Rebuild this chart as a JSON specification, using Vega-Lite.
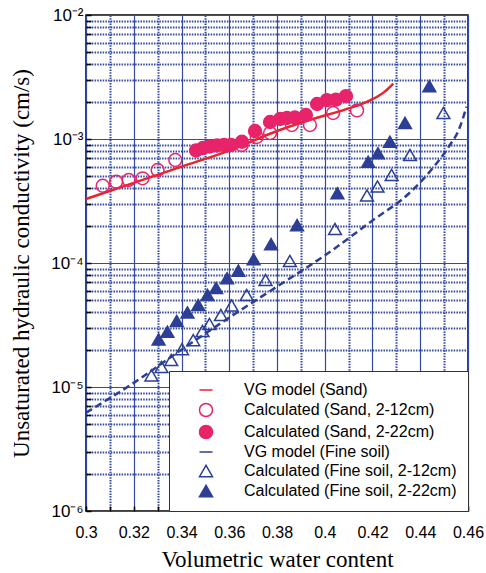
{
  "$schema": "https://vega.github.io/schema/vega-lite/v6.json",
  "width": 382,
  "height": 496,
  "autosize": {"type": "none"},
  "padding": {"left": 86, "top": 15, "right": 18, "bottom": 62},
  "background": "white",
  "config": {
    "view": {"stroke": "#000000", "strokeWidth": 1.5},
    "axis": {"labelFont": "Liberation Sans", "titleFont": "Liberation Serif", "titleFontWeight": "normal", "labelColor": "#000000", "titleColor": "#000000"}
  },
  "datasets": {
    "lineset": [
      {"series": "VG model (Sand)", "wc": 0.300, "k": 3.28e-4},
      {"series": "VG model (Sand)", "wc": 0.320, "k": 4.43e-4},
      {"series": "VG model (Sand)", "wc": 0.340, "k": 5.98e-4},
      {"series": "VG model (Sand)", "wc": 0.360, "k": 8.07e-4},
      {"series": "VG model (Sand)", "wc": 0.380, "k": 1.16e-3},
      {"series": "VG model (Sand)", "wc": 0.395, "k": 1.45e-3},
      {"series": "VG model (Sand)", "wc": 0.409, "k": 1.74e-3},
      {"series": "VG model (Sand)", "wc": 0.419, "k": 2.05e-3},
      {"series": "VG model (Sand)", "wc": 0.425, "k": 2.4e-3},
      {"series": "VG model (Sand)", "wc": 0.4287, "k": 2.8e-3},
      {"series": "VG model (Fine soil)", "wc": 0.300, "k": 6.2e-6},
      {"series": "VG model (Fine soil)", "wc": 0.320, "k": 1.08e-5},
      {"series": "VG model (Fine soil)", "wc": 0.340, "k": 2.0e-5},
      {"series": "VG model (Fine soil)", "wc": 0.360, "k": 3.63e-5},
      {"series": "VG model (Fine soil)", "wc": 0.380, "k": 6.45e-5},
      {"series": "VG model (Fine soil)", "wc": 0.400, "k": 1.15e-4},
      {"series": "VG model (Fine soil)", "wc": 0.420, "k": 2.2e-4},
      {"series": "VG model (Fine soil)", "wc": 0.435, "k": 3.6e-4},
      {"series": "VG model (Fine soil)", "wc": 0.445, "k": 5.75e-4},
      {"series": "VG model (Fine soil)", "wc": 0.452, "k": 8.7e-4},
      {"series": "VG model (Fine soil)", "wc": 0.456, "k": 1.17e-3},
      {"series": "VG model (Fine soil)", "wc": 0.4594, "k": 1.82e-3}
    ],
    "pointset": [
      {"series": "Calculated (Sand, 2-12cm)", "wc": 0.3070, "k": 4.2e-4},
      {"series": "Calculated (Sand, 2-12cm)", "wc": 0.3126, "k": 4.53e-4},
      {"series": "Calculated (Sand, 2-12cm)", "wc": 0.3179, "k": 4.67e-4},
      {"series": "Calculated (Sand, 2-12cm)", "wc": 0.3237, "k": 4.82e-4},
      {"series": "Calculated (Sand, 2-12cm)", "wc": 0.3300, "k": 5.62e-4},
      {"series": "Calculated (Sand, 2-12cm)", "wc": 0.3374, "k": 6.77e-4},
      {"series": "Calculated (Sand, 2-12cm)", "wc": 0.3652, "k": 8.95e-4},
      {"series": "Calculated (Sand, 2-12cm)", "wc": 0.3715, "k": 1.038e-3},
      {"series": "Calculated (Sand, 2-12cm)", "wc": 0.3771, "k": 1.117e-3},
      {"series": "Calculated (Sand, 2-12cm)", "wc": 0.3862, "k": 1.297e-3},
      {"series": "Calculated (Sand, 2-12cm)", "wc": 0.3938, "k": 1.297e-3},
      {"series": "Calculated (Sand, 2-12cm)", "wc": 0.4035, "k": 1.62e-3},
      {"series": "Calculated (Sand, 2-12cm)", "wc": 0.4135, "k": 1.70e-3},
      {"series": "Calculated (Sand, 2-22cm)", "wc": 0.3461, "k": 8.08e-4},
      {"series": "Calculated (Sand, 2-22cm)", "wc": 0.3490, "k": 8.46e-4},
      {"series": "Calculated (Sand, 2-22cm)", "wc": 0.3519, "k": 8.70e-4},
      {"series": "Calculated (Sand, 2-22cm)", "wc": 0.3549, "k": 8.86e-4},
      {"series": "Calculated (Sand, 2-22cm)", "wc": 0.3578, "k": 8.95e-4},
      {"series": "Calculated (Sand, 2-22cm)", "wc": 0.3607, "k": 8.95e-4},
      {"series": "Calculated (Sand, 2-22cm)", "wc": 0.3653, "k": 9.51e-4},
      {"series": "Calculated (Sand, 2-22cm)", "wc": 0.3708, "k": 1.161e-3},
      {"series": "Calculated (Sand, 2-22cm)", "wc": 0.3771, "k": 1.371e-3},
      {"series": "Calculated (Sand, 2-22cm)", "wc": 0.3813, "k": 1.45e-3},
      {"series": "Calculated (Sand, 2-22cm)", "wc": 0.3842, "k": 1.477e-3},
      {"series": "Calculated (Sand, 2-22cm)", "wc": 0.3875, "k": 1.49e-3},
      {"series": "Calculated (Sand, 2-22cm)", "wc": 0.3921, "k": 1.563e-3},
      {"series": "Calculated (Sand, 2-22cm)", "wc": 0.3968, "k": 1.915e-3},
      {"series": "Calculated (Sand, 2-22cm)", "wc": 0.4009, "k": 2.06e-3},
      {"series": "Calculated (Sand, 2-22cm)", "wc": 0.4047, "k": 2.08e-3},
      {"series": "Calculated (Sand, 2-22cm)", "wc": 0.4089, "k": 2.22e-3},
      {"series": "Calculated (Fine soil, 2-12cm)", "wc": 0.3274, "k": 1.24e-5},
      {"series": "Calculated (Fine soil, 2-12cm)", "wc": 0.3316, "k": 1.45e-5},
      {"series": "Calculated (Fine soil, 2-12cm)", "wc": 0.3357, "k": 1.65e-5},
      {"series": "Calculated (Fine soil, 2-12cm)", "wc": 0.3402, "k": 2.02e-5},
      {"series": "Calculated (Fine soil, 2-12cm)", "wc": 0.3449, "k": 2.39e-5},
      {"series": "Calculated (Fine soil, 2-12cm)", "wc": 0.3488, "k": 2.83e-5},
      {"series": "Calculated (Fine soil, 2-12cm)", "wc": 0.3517, "k": 3.22e-5},
      {"series": "Calculated (Fine soil, 2-12cm)", "wc": 0.3565, "k": 3.81e-5},
      {"series": "Calculated (Fine soil, 2-12cm)", "wc": 0.3610, "k": 4.54e-5},
      {"series": "Calculated (Fine soil, 2-12cm)", "wc": 0.3673, "k": 5.52e-5},
      {"series": "Calculated (Fine soil, 2-12cm)", "wc": 0.3752, "k": 7.3e-5},
      {"series": "Calculated (Fine soil, 2-12cm)", "wc": 0.3854, "k": 1.038e-4},
      {"series": "Calculated (Fine soil, 2-12cm)", "wc": 0.4043, "k": 1.88e-4},
      {"series": "Calculated (Fine soil, 2-12cm)", "wc": 0.4177, "k": 3.50e-4},
      {"series": "Calculated (Fine soil, 2-12cm)", "wc": 0.4221, "k": 4.14e-4},
      {"series": "Calculated (Fine soil, 2-12cm)", "wc": 0.4280, "k": 5.13e-4},
      {"series": "Calculated (Fine soil, 2-12cm)", "wc": 0.4357, "k": 7.43e-4},
      {"series": "Calculated (Fine soil, 2-12cm)", "wc": 0.4497, "k": 1.62e-3},
      {"series": "Calculated (Fine soil, 2-22cm)", "wc": 0.3304, "k": 2.42e-5},
      {"series": "Calculated (Fine soil, 2-22cm)", "wc": 0.3341, "k": 2.79e-5},
      {"series": "Calculated (Fine soil, 2-22cm)", "wc": 0.3380, "k": 3.41e-5},
      {"series": "Calculated (Fine soil, 2-22cm)", "wc": 0.3425, "k": 3.99e-5},
      {"series": "Calculated (Fine soil, 2-22cm)", "wc": 0.3470, "k": 4.58e-5},
      {"series": "Calculated (Fine soil, 2-22cm)", "wc": 0.3509, "k": 5.52e-5},
      {"series": "Calculated (Fine soil, 2-22cm)", "wc": 0.3545, "k": 6.29e-5},
      {"series": "Calculated (Fine soil, 2-22cm)", "wc": 0.3591, "k": 7.53e-5},
      {"series": "Calculated (Fine soil, 2-22cm)", "wc": 0.3638, "k": 8.67e-5},
      {"series": "Calculated (Fine soil, 2-22cm)", "wc": 0.3702, "k": 1.072e-4},
      {"series": "Calculated (Fine soil, 2-22cm)", "wc": 0.3775, "k": 1.42e-4},
      {"series": "Calculated (Fine soil, 2-22cm)", "wc": 0.3884, "k": 2.02e-4},
      {"series": "Calculated (Fine soil, 2-22cm)", "wc": 0.4053, "k": 3.65e-4},
      {"series": "Calculated (Fine soil, 2-22cm)", "wc": 0.4182, "k": 6.56e-4},
      {"series": "Calculated (Fine soil, 2-22cm)", "wc": 0.4223, "k": 7.67e-4},
      {"series": "Calculated (Fine soil, 2-22cm)", "wc": 0.4273, "k": 9.51e-4},
      {"series": "Calculated (Fine soil, 2-22cm)", "wc": 0.4336, "k": 1.35e-3},
      {"series": "Calculated (Fine soil, 2-22cm)", "wc": 0.4438, "k": 2.67e-3}
    ]
  },
  "encoding": {
    "x": {
      "field": "wc", "type": "quantitative",
      "scale": {"domain": [0.3, 0.46], "nice": false, "zero": false},
      "axis": {
        "orient": "bottom",
        "title": "Volumetric water content",
        "titleFontSize": 23,
        "titlePadding": 8,
        "values": [0.3, 0.31, 0.32, 0.33, 0.34, 0.35, 0.36, 0.37, 0.38, 0.39, 0.4, 0.41, 0.42, 0.43, 0.44, 0.45, 0.46],
        "labelExpr": "round(datum.value * 100) % 2 == 0 ? format(datum.value, '.2~f') : ''",
        "labelFontSize": 16,
        "labelPadding": 18,
        "labelOverlap": false,
        "labelFlush": false,
        "domain": false,
        "grid": true,
        "gridColor": "#3349a3",
        "gridWidth": {"condition": {"test": "round(datum.value * 100) % 2 == 0", "value": 1.2}, "value": 2},
        "gridDash": {"condition": {"test": "round(datum.value * 100) % 2 == 0", "value": [1, 0]}, "value": [1.5, 1.2]},
        "tickSize": -5,
        "tickColor": "#000000",
        "tickWidth": 1.5
      }
    },
    "y": {
      "field": "k", "type": "quantitative",
      "scale": {"type": "log", "domain": [1e-6, 1e-2], "nice": false},
      "axis": {
        "orient": "left",
        "title": "Unsaturated hydraulic conductivity (cm/s)",
        "titleFontSize": 23,
        "titlePadding": 17,
        "values": [1e-6, 2e-6, 3e-6, 4e-6, 5e-6, 6e-6, 7e-6, 8e-6, 9e-6, 1e-5, 2e-5, 3e-5, 4e-5, 5e-5, 6e-5, 7e-5, 8e-5, 9e-5, 1e-4, 2e-4, 3e-4, 4e-4, 5e-4, 6e-4, 7e-4, 8e-4, 9e-4, 1e-3, 2e-3, 3e-3, 4e-3, 5e-3, 6e-3, 7e-3, 8e-3, 9e-3, 1e-2],
        "labelExpr": "abs(log(datum.value)/LN10 - round(log(datum.value)/LN10)) < 1e-6 ? '10' + '⁻' + ['⁰','¹','²','³','⁴','⁵','⁶'][-round(log(datum.value)/LN10)] : ''",
        "labelFontSize": 17,
        "labelPadding": 8,
        "labelOverlap": false,
        "labelFlush": false,
        "domain": false,
        "grid": true,
        "gridColor": "#3349a3",
        "gridWidth": {"condition": {"test": "abs(log(datum.value)/LN10 - round(log(datum.value)/LN10)) < 1e-6", "value": 1.2}, "value": 2},
        "gridDash": {"condition": {"test": "abs(log(datum.value)/LN10 - round(log(datum.value)/LN10)) < 1e-6", "value": [1, 0]}, "value": [1.5, 1.2]},
        "tickSize": -5,
        "tickColor": "#000000",
        "tickWidth": 1.5
      }
    },
    "color": {
      "field": "series", "type": "nominal",
      "scale": {
        "domain": ["VG model (Sand)", "Calculated (Sand, 2-12cm)", "Calculated (Sand, 2-22cm)", "VG model (Fine soil)", "Calculated (Fine soil, 2-12cm)", "Calculated (Fine soil, 2-22cm)"],
        "range": ["#ea2329", "#e8236a", "#e8236a", "#2c3f95", "#2c3f95", "#2c3f95"]
      },
      "legend": {
        "title": null,
        "orient": "bottom-right",
        "offset": 0,
        "fillColor": "white",
        "strokeColor": "#333333",
        "padding": 11,
        "labelFont": "Liberation Sans",
        "labelFontSize": 16,
        "symbolSize": 170,
        "symbolOffset": 18,
        "labelOffset": 30,
        "rowPadding": 2,
        "labelLimit": 400
      }
    }
  },
  "layer": [
    {
      "data": {"name": "lineset"},
      "transform": [{"filter": "datum.series == 'VG model (Sand)'"}],
      "mark": {"type": "line", "strokeWidth": 2.5, "interpolate": "monotone"}
    },
    {
      "data": {"name": "lineset"},
      "transform": [{"filter": "datum.series == 'VG model (Fine soil)'"}],
      "mark": {"type": "line", "strokeWidth": 2.5, "strokeDash": [7, 4], "interpolate": "monotone"}
    },
    {
      "data": {"name": "pointset"},
      "mark": {"type": "point", "size": 165, "strokeWidth": 1.5, "opacity": 1},
      "encoding": {
        "shape": {
          "field": "series", "type": "nominal",
          "scale": {
            "domain": ["VG model (Sand)", "Calculated (Sand, 2-12cm)", "Calculated (Sand, 2-22cm)", "VG model (Fine soil)", "Calculated (Fine soil, 2-12cm)", "Calculated (Fine soil, 2-22cm)"],
            "range": ["stroke", "circle", "circle", "stroke", "triangle-up", "triangle-up"]
          }
        },
        "fill": {
          "field": "series", "type": "nominal",
          "scale": {
            "domain": ["VG model (Sand)", "Calculated (Sand, 2-12cm)", "Calculated (Sand, 2-22cm)", "VG model (Fine soil)", "Calculated (Fine soil, 2-12cm)", "Calculated (Fine soil, 2-22cm)"],
            "range": ["transparent", "transparent", "#e8236a", "transparent", "transparent", "#2c3f95"]
          }
        }
      }
    }
  ]
}
